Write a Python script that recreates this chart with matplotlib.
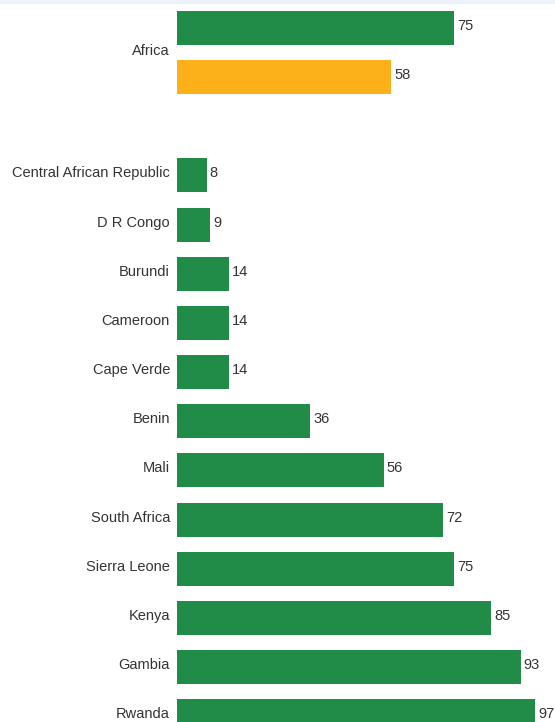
import matplotlib
matplotlib.use("Agg")
import matplotlib.pyplot as plt
from matplotlib.patches import Rectangle

plt.rcParams['font.family'] = ['Liberation Sans', 'DejaVu Sans']

region = "Africa"
region_values = [75, 58]          # green series, orange series
countries = ["Central African Republic", "D R Congo", "Burundi", "Cameroon",
             "Cape Verde", "Benin", "Mali", "South Africa", "Sierra Leone",
             "Kenya", "Gambia", "Rwanda"]
country_values = [8, 9, 14, 14, 14, 36, 56, 72, 75, 85, 93, 97]

GREEN = "#218c47"
ORANGE = "#fcb11b"
TEXT = "#333333"

W, H = 555, 722
fig = plt.figure(figsize=(W / 100, H / 100), dpi=100)
fig.patch.set_facecolor("white")

pitch = 49.15
top_center = 28
ax = fig.add_axes([177 / W, 0, (W - 177) / W, 1])
ax.set_xlim(0, (W - 177) / 3.695)
ax.set_ylim((H - top_center) / pitch, -top_center / pitch)
ax.axis("off")

bh = 34 / pitch
fs = 10.5
# Region bars
ax.barh(0, region_values[0], height=bh, color=GREEN)
ax.barh(1, region_values[1], height=bh, color=ORANGE)
for i, v in enumerate(region_values):
    ax.text(v + 0.8, i - 0.04, str(v), va="center", ha="left", fontsize=fs, color=TEXT)
ax.text(-7 / 3.695, 0.47, region, va="center", ha="right", fontsize=fs, color=TEXT)

# Country bars
pos = [3 + i for i in range(len(countries))]
ax.barh(pos, country_values, height=bh, color=GREEN)
for p, name, v in zip(pos, countries, country_values):
    ax.text(-7 / 3.695, p - 0.04, name, va="center", ha="right", fontsize=fs, color=TEXT, clip_on=False)
    ax.text(v + 0.8, p - 0.04, str(v), va="center", ha="left", fontsize=fs, color=TEXT)

# top light strip
fig.patches.append(Rectangle((0, 1 - 3 / H), 1, 3 / H, transform=fig.transFigure,
                             color="#eef2f8", zorder=10))

fig.savefig("out.png", dpi=100)
